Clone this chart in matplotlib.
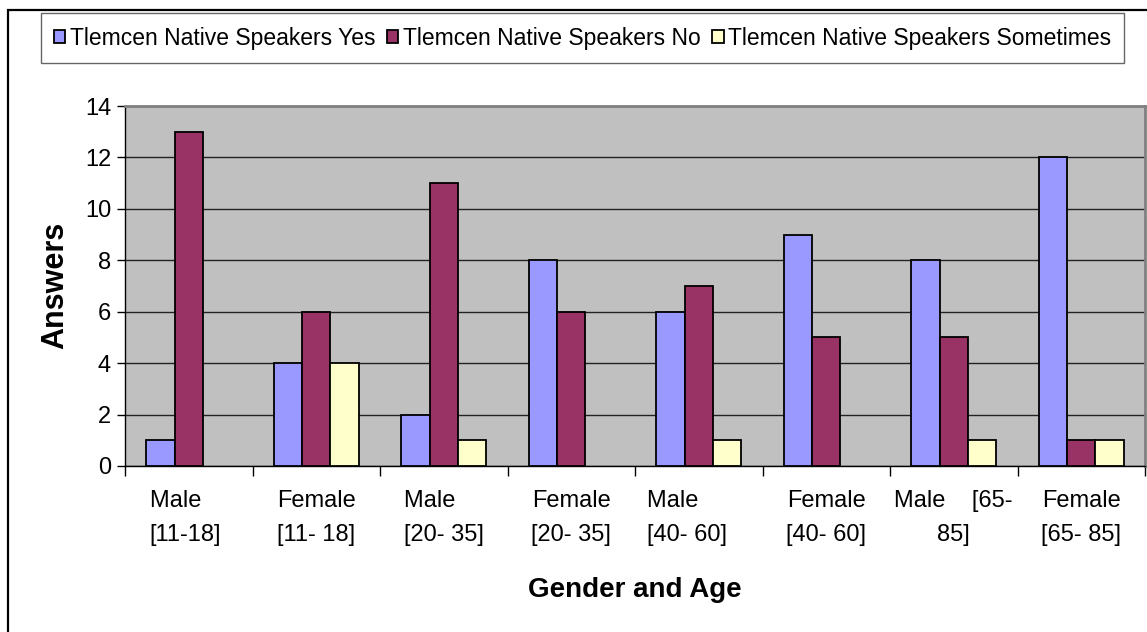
import numpy as np
import matplotlib
matplotlib.use('Agg')
import matplotlib.pyplot as plt
from matplotlib.patches import Rectangle, Patch

plt.rcParams['font.family'] = ['Liberation Sans', 'DejaVu Sans']

# data
groups = ['Male    \n[11-18]', 'Female\n[11- 18]', 'Male    \n[20- 35]', 'Female\n[20- 35]',
          'Male        \n[40- 60]', 'Female\n[40- 60]', 'Male    [65-\n85]', 'Female\n[65- 85]']
left_aligned = [True, False, True, False, True, False, False, False]
series_names = ['Tlemcen Native Speakers Yes', 'Tlemcen Native Speakers No',
                'Tlemcen Native Speakers Sometimes']
yes = [1, 4, 2, 8, 6, 9, 8, 12]
no = [13, 6, 11, 6, 7, 5, 5, 1]
sometimes = [0, 4, 1, 0, 1, 0, 1, 1]
colors = ['#9999FF', '#993366', '#FFFFCC']

W, H = 1147, 632
fig = plt.figure(figsize=(W / 100, H / 100), dpi=100)

# plot area in pixels: left 125, right 1145, top 106, bottom 466
ax = fig.add_axes([125 / W, 1 - 466 / H, (1145 - 125) / W, (466 - 106) / H])
ax.set_facecolor('#C0C0C0')

x = np.arange(len(groups))
w = 1 / 4.5
handles = []
for i, (vals, name, c) in enumerate(zip([yes, no, sometimes], series_names, colors)):
    # zero-height bars are not drawn at all in the original
    edges = ['black' if v > 0 else 'none' for v in vals]
    ax.bar(x + (i - 1) * w, vals, w, color=c, edgecolor=edges, linewidth=1.3, zorder=3)
    handles.append(Patch(facecolor=c, edgecolor='black', linewidth=1.3, label=name))

ax.set_xlim(-0.5, len(groups) - 0.5)
ax.set_ylim(0, 14)
ax.set_yticks(range(0, 15, 2))
ax.yaxis.grid(True, color='#222222', linewidth=1)
ax.set_axisbelow(True)

ax.set_xticks(x)
ax.set_xticklabels(groups)
for lab, la in zip(ax.get_xticklabels(), left_aligned):
    lab.set_multialignment('left' if la else 'center')
    lab.set_linespacing(1.7)
ax.set_xticks(np.arange(-0.5, len(groups)), minor=True)
ax.tick_params(axis='x', which='major', length=0, pad=17, labelsize=17)
ax.tick_params(axis='x', which='minor', length=7, direction='out', width=1)
ax.tick_params(axis='y', length=6, direction='out', width=1, labelsize=17, pad=4)

for s in ['top', 'right']:
    ax.spines[s].set_color('#808080')
    ax.spines[s].set_linewidth(2)
for s in ['left', 'bottom']:
    ax.spines[s].set_color('black')
    ax.spines[s].set_linewidth(1)

fig.text((125 + 1145) / 2 / W, 1 - 590 / H, 'Gender and Age', fontsize=20,
         fontweight='bold', ha='center', va='center')
fig.text(55 / W, 1 - 285 / H, 'Answers', fontsize=22, fontweight='bold',
         rotation=90, ha='center', va='center')

leg = fig.legend(handles=handles, loc='center', bbox_to_anchor=((40 + 1125) / 2 / W, 1 - 38 / H),
                 ncol=3, fontsize=16.5, frameon=True, fancybox=False,
                 handlelength=0.5, handleheight=0.5, handletextpad=0.2,
                 columnspacing=0.5, borderpad=0.57, borderaxespad=0)
leg.get_frame().set_edgecolor('#404040')
leg.get_frame().set_linewidth(1)

# outer chart border
fig.patches.append(Rectangle((8 / W, -0.1), 1.2, 1 - 10 / H + 0.1, transform=fig.transFigure,
                             fill=False, edgecolor='black', linewidth=1.6))

fig.savefig('out.png', dpi=100)
